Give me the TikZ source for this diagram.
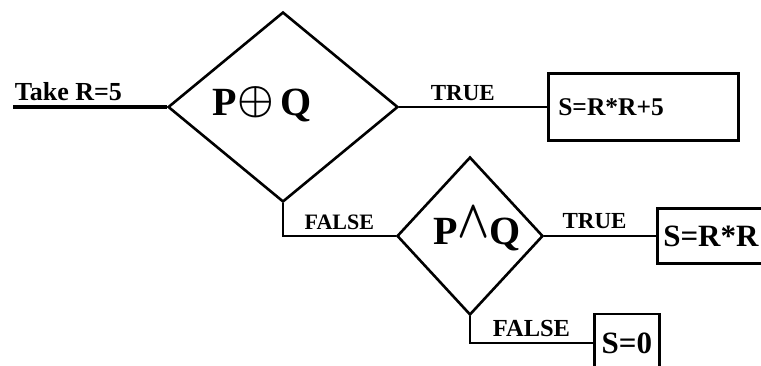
\documentclass[tikz,border=0pt]{standalone}
\usepackage{fontspec}
\setmainfont{Liberation Serif}
\usetikzlibrary{shapes.geometric}

\tikzset{
	decision/.style={diamond,draw,line width=2.6pt,inner sep=0pt},
	result/.style={rectangle,draw,line width=2.6pt,anchor=west,align=left,inner ysep=0pt},
	cond/.style={font=\fontsize{40}{42}\selectfont\bfseries,anchor=base west,inner sep=0pt},
	lbl/.style={font=\fontsize{23}{26}\selectfont\bfseries,inner sep=4.5pt},
}

\begin{document}
\begin{tikzpicture}[x=1pt,y=1pt]
			\useasboundingbox (0,0) rectangle (761,365);
			
			\begin{scope}[every node/.style={decision}]
				\node[minimum width=230pt,minimum height=190pt] (D1) at (283,258) {};
				\node[minimum width=146pt,minimum height=158pt] (D2) at (470,129) {};
			\end{scope}
			\node[cond] (C1) at (212,250) {P\hspace{1pt}\raisebox{3pt}{\scalebox{4.1}{\normalsize\boldmath$\oplus$}}\hspace{6pt}Q};
			\node[cond] (C2) at (433,121) {P\raisebox{7pt}{\scalebox{4.2}[5.4]{\normalsize\boldmath$\wedge$}}Q};
			
			\begin{scope}[every node/.style={result}]
				\node[font=\fontsize{25.5}{28}\selectfont\bfseries,minimum height=67pt,text width=170pt,inner xsep=10pt] (B1) at (547,258) {S=R*R+5};
				\node[font=\fontsize{31}{34}\selectfont\bfseries,minimum height=55pt,text width=110pt,inner xsep=6pt] (B2) at (656,129) {S=R*R};
				\node[font=\fontsize{31}{34}\selectfont\bfseries,minimum height=58pt,minimum width=65pt,inner xsep=7pt] (B3) at (593,22) {S=0};
			\end{scope}
			
			\coordinate (in) at (13,258);
			
			\begin{scope}[every edge/.style={draw=black,line width=2.6pt}]
				\path (in) edge [line width=3.8pt] node [lbl,font=\fontsize{26}{28}\selectfont\bfseries,pos=0,above right,inner xsep=0pt] {Take R=5} (D1.west);
				\path (D1.east) edge node [lbl,above,pos=0.43] {TRUE} (B1.west);
				\path (D2.east) edge node [lbl,above,pos=0.45,inner sep=6pt] {TRUE} (B2.west);
			\end{scope}
			\draw[line width=2.6pt] (D1.south) |- node [lbl,font=\fontsize{22}{24}\selectfont\bfseries,above,pos=0.75] {FALSE} (D2.west);
			\draw[line width=2.6pt] (D2.south) |- node [lbl,font=\fontsize{24.5}{27}\selectfont\bfseries,above,pos=0.75] {FALSE} (B3.west |- 0,22);
\end{tikzpicture}
\end{document}
